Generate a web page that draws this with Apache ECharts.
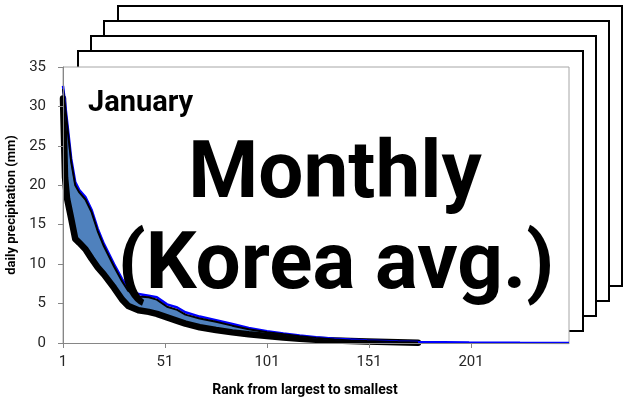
<!DOCTYPE html>
<html>
<head>
<meta charset="utf-8">
<title>January daily precipitation by rank</title>
<script src="https://cdn.jsdelivr.net/npm/echarts@6.0.0/dist/echarts.min.js"></script>
<style>
  html, body { margin: 0; padding: 0; background: #fff; }
  #chart { width: 625px; height: 397px; }
</style>
</head>
<body>
<div id="chart"></div>
<script>
// Rank (largest to smallest) at which each curve is sampled
const ranks = [1, 2, 3, 5, 7, 9, 12, 15, 18, 21,
               26, 30, 33, 38, 43, 47, 52, 57, 61, 68,
               76, 84, 92, 101, 109, 117, 125, 134, 142, 150,
               165, 175, 200, 225, 249];

// Upper edge of the model envelope (mm/day); null where the model curves end
const upperMax = [32.2, 30.0, 27.7, 23.0, 20.0, 19.1, 18.2, 16.6, 14.2, 12.3,
                  9.7, 7.8, 6.6, 5.9, 5.8, 5.5, 4.6, 4.2, 3.6, 3.1,
                  2.7, 2.2, 1.75, 1.35, 1.1, 0.85, 0.65, 0.45, 0.33, 0.24,
                  0.12, 0.05, null, null, null];

// Lower edge of the model envelope (mm/day)
const lowerMin = [31.0, 21.0, 18.3, 15.8, 13.2, 12.7, 11.9, 10.7, 9.6, 8.7,
                  7.0, 5.5, 4.7, 4.15, 3.95, 3.7, 3.25, 2.8, 2.45, 2.0,
                  1.65, 1.35, 1.1, 0.88, 0.7, 0.55, 0.42, 0.32, 0.24, 0.18,
                  0.08, 0.03, null, null, null];

// Observed Korea-average curve (mm/day)
const observed = [32.6, 30.4, 28.1, 23.4, 20.4, 19.4, 18.5, 16.9, 14.5, 12.6,
                  10.0, 8.1, 6.9, 6.2, 6.0, 5.8, 4.9, 4.5, 3.9, 3.35,
                  2.9, 2.4, 1.9, 1.5, 1.2, 0.95, 0.72, 0.55, 0.43, 0.33,
                  0.2, 0.13, 0.06, 0.02, 0];

const xTicks = [1, 51, 101, 151, 201];
const yTicks = [0, 5, 10, 15, 20, 25, 30, 35];

const pairs = (vals) => ranks.map((r, i) => [r, vals[i]]);

// Sheets stacked behind the front chart page (back to front)
const sheets = [
  { x: 118, y: 6, w: 504, h: 280 },
  { x: 104, y: 21, w: 505, h: 280 },
  { x: 91, y: 36, w: 505, h: 280 },
  { x: 78, y: 51, w: 505, h: 280 }
];

const chart = echarts.init(document.getElementById('chart'), null, { renderer: 'canvas' });

const labelFont = 'Roboto';

chart.setOption({
  animation: false,
  backgroundColor: '#fff',
  grid: {
    left: 63, right: 56, top: 67, bottom: 54,
    outerBoundsMode: 'none',
    containLabel: false,
    show: true,
    backgroundColor: '#fff',
    borderColor: '#a6a6a6',
    borderWidth: 1
  },
  xAxis: {
    type: 'value',
    min: 1,
    max: 249,
    z: 10,
    name: 'Rank from largest to smallest',
    nameLocation: 'middle',
    nameGap: 40,
    nameTextStyle: {
      fontFamily: labelFont, fontWeight: 'bold', fontSize: 14, color: '#000',
      padding: [0, 22, 0, 0]
    },
    axisLine: { lineStyle: { color: '#868686', width: 1 } },
    axisTick: { show: true, length: 5, lineStyle: { color: '#868686' }, customValues: xTicks },
    axisLabel: {
      customValues: xTicks,
      margin: 12,
      fontFamily: labelFont, fontSize: 15, color: '#262626'
    },
    splitLine: { show: false }
  },
  yAxis: {
    type: 'value',
    min: 0,
    max: 35,
    interval: 5,
    z: 10,
    name: 'daily precipitation (mm)',
    nameLocation: 'middle',
    nameGap: 44,
    nameTextStyle: { fontFamily: labelFont, fontWeight: 'bold', fontSize: 13, color: '#000' },
    axisLine: { show: true, lineStyle: { color: '#868686', width: 1 } },
    axisTick: { show: true, length: 5, lineStyle: { color: '#868686' } },
    axisLabel: {
      margin: 17,
      fontFamily: labelFont, fontSize: 15, color: '#262626',
      formatter: (v) => (yTicks.indexOf(v) >= 0 ? String(v) : '')
    },
    splitLine: { show: false }
  },
  series: [
    {
      // envelope filled down to zero, then cleared below the lower edge
      name: 'envelope',
      type: 'line',
      data: pairs(upperMax),
      symbol: 'none',
      lineStyle: { opacity: 0 },
      areaStyle: { color: '#4f81bd', opacity: 1 },
      silent: true,
      z: 2
    },
    {
      name: 'below envelope',
      type: 'line',
      data: pairs(lowerMin),
      symbol: 'none',
      lineStyle: { opacity: 0 },
      areaStyle: { color: '#fff', opacity: 1 },
      silent: true,
      z: 2
    },
    {
      name: 'lower',
      type: 'line',
      data: pairs(lowerMin),
      symbol: 'none',
      lineStyle: { color: '#000', width: 6.5, join: 'round', cap: 'round' },
      z: 3
    },
    {
      name: 'observed',
      type: 'line',
      data: pairs(observed),
      symbol: 'none',
      lineStyle: { color: '#0000ff', width: 2.5 },
      z: 4
    },
    {
      name: 'upper',
      type: 'line',
      data: pairs(upperMax),
      symbol: 'none',
      lineStyle: { color: '#000', width: 2 },
      z: 5
    }
  ],
  graphic: [
    ...sheets.map((s) => ({
      type: 'rect',
      z: -10,
      shape: { x: s.x, y: s.y, width: s.w, height: s.h },
      style: { fill: '#fff', stroke: '#000', lineWidth: 2 }
    })),
    {
      type: 'text',
      z: 100,
      left: 88,
      top: 89,
      style: {
        text: 'January',
        font: 'bold 29px Roboto',
        fill: '#000'
      }
    },
    {
      type: 'text',
      z: 100,
      x: 335,
      y: 177,
      style: {
        text: 'Monthly',
        font: 'bold 80px Roboto',
        fill: '#000',
        textAlign: 'center',
        textVerticalAlign: 'middle'
      }
    },
    {
      type: 'text',
      z: 100,
      x: 336,
      y: 268,
      style: {
        text: '(Korea avg.)',
        font: 'bold 80px Roboto',
        fill: '#000',
        textAlign: 'center',
        textVerticalAlign: 'middle'
      }
    }
  ]
});
</script>
</body>
</html>
